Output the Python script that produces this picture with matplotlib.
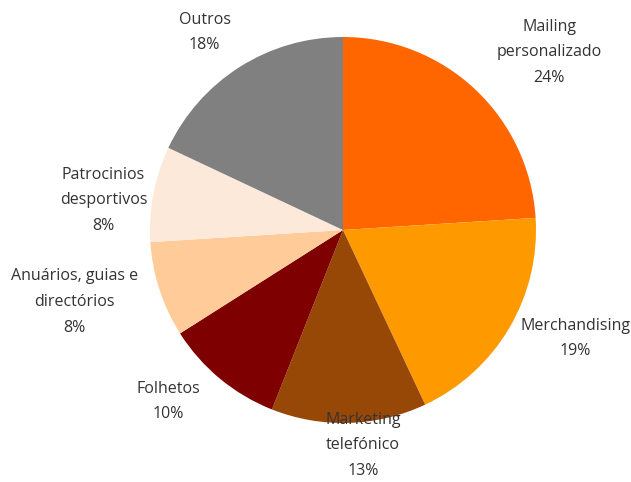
import numpy as np
import matplotlib.pyplot as plt

# Data
categories = ["Mailing\npersonalizado", "Merchandising", "Marketing\ntelefónico",
              "Folhetos", "Anuários, guias e\ndirectórios", "Patrocinios\ndesportivos", "Outros"]
shares = [24, 19, 13, 10, 8, 8, 18]
colors = ["#FF6600", "#FF9900", "#984806", "#7F0000", "#FFCC99", "#FDE9D9", "#808080"]

# radial distance of each label (in pie radii) and angular nudge (degrees)
label_dist = [1.41, 1.33, 1.12, 1.27, 1.44, 1.25, 1.25]
label_shift = [-6, 5.6, 3.5, -6, -3, 3.7, 2.6]

fig = plt.figure(figsize=(6.31, 4.82), dpi=100)
ax = fig.add_axes([150 / 631, 59 / 482, 386 / 631, 386 / 482])

wedges, _ = ax.pie(shares, colors=colors, startangle=90, counterclock=False,
                   radius=1.0, wedgeprops=dict(linewidth=0))
ax.set_xlim(-1, 1)
ax.set_ylim(-1, 1)
ax.axis("off")

for w, name, pct, d, s in zip(wedges, categories, shares, label_dist, label_shift):
    ang = np.deg2rad((w.theta1 + w.theta2) / 2 + s)
    ax.text(d * np.cos(ang), d * np.sin(ang), f"{name}\n{pct}%",
            ha="center", va="center", fontsize=11.5, color="#333333",
            family="Open Sans", linespacing=1.8, clip_on=False)

fig.savefig("out.png", dpi=100)
